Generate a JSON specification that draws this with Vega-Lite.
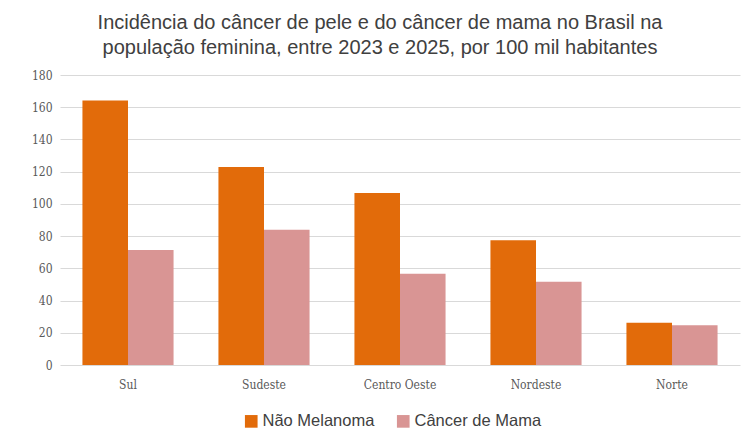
{
  "$schema": "https://vega.github.io/schema/vega-lite/v6.json",
  "autosize": {"type": "none"},
  "width": 680,
  "height": 290,
  "padding": {"left": 60, "top": 75, "right": 5, "bottom": 76},
  "background": "white",
  "title": {
    "text": ["Incidência do câncer de pele e do câncer de mama no Brasil na", "população feminina, entre 2023 e 2025, por 100 mil habitantes"],
    "font": "Liberation Sans",
    "fontSize": 20,
    "fontWeight": "normal",
    "color": "#404040",
    "lineHeight": 25,
    "anchor": "middle",
    "dx": -20,
    "offset": 11
  },
  "data": {
    "values": [
      {"regiao": "Sul", "tipo": "Não Melanoma", "valor": 164.2},
      {"regiao": "Sul", "tipo": "Câncer de Mama", "valor": 71.4},
      {"regiao": "Sudeste", "tipo": "Não Melanoma", "valor": 122.9},
      {"regiao": "Sudeste", "tipo": "Câncer de Mama", "valor": 84.0},
      {"regiao": "Centro Oeste", "tipo": "Não Melanoma", "valor": 106.8},
      {"regiao": "Centro Oeste", "tipo": "Câncer de Mama", "valor": 56.6},
      {"regiao": "Nordeste", "tipo": "Não Melanoma", "valor": 77.4},
      {"regiao": "Nordeste", "tipo": "Câncer de Mama", "valor": 51.6},
      {"regiao": "Norte", "tipo": "Não Melanoma", "valor": 26.2},
      {"regiao": "Norte", "tipo": "Câncer de Mama", "valor": 24.6}
    ]
  },
  "mark": {"type": "bar"},
  "encoding": {
    "x": {
      "field": "regiao",
      "type": "nominal",
      "sort": ["Sul", "Sudeste", "Centro Oeste", "Nordeste", "Norte"],
      "scale": {"paddingInner": 0.33, "paddingOuter": 0.165},
      "axis": {
        "title": null,
        "labelAngle": 0,
        "ticks": false,
        "domain": false,
        "labelFont": "DejaVu Serif Condensed",
        "labelFontSize": 12,
        "labelColor": "#595959",
        "labelPadding": 14
      }
    },
    "xOffset": {
      "field": "tipo",
      "type": "nominal",
      "sort": ["Não Melanoma", "Câncer de Mama"]
    },
    "y": {
      "field": "valor",
      "type": "quantitative",
      "scale": {"domain": [0, 180]},
      "axis": {
        "title": null,
        "values": [0, 20, 40, 60, 80, 100, 120, 140, 160, 180],
        "ticks": false,
        "domain": false,
        "labelFont": "DejaVu Serif Condensed",
        "labelFontSize": 12,
        "labelColor": "#595959",
        "labelPadding": 8,
        "gridColor": "#d9d9d9",
        "gridWidth": 1
      }
    },
    "color": {
      "field": "tipo",
      "type": "nominal",
      "sort": ["Não Melanoma", "Câncer de Mama"],
      "scale": {"domain": ["Não Melanoma", "Câncer de Mama"], "range": ["#E26B0A", "#D99594"]},
      "legend": {
        "title": null,
        "orient": "none",
        "legendX": 183,
        "legendY": 338,
        "direction": "horizontal",
        "symbolType": "square",
        "symbolSize": 160,
        "symbolStrokeWidth": 0,
        "labelFont": "Liberation Sans",
        "labelFontSize": 16.5,
        "labelColor": "#404040",
        "columnPadding": 20,
        "labelOffset": 3
      }
    }
  },
  "config": {"view": {"stroke": null}}
}
